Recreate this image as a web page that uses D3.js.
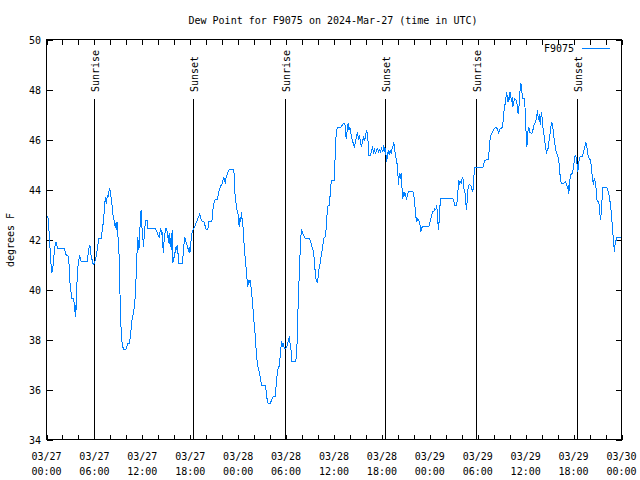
<!DOCTYPE html>
<html lang="en">
<head>
<meta charset="UTF-8">
<title>Dew Point F9075</title>
<script src="https://cdn.jsdelivr.net/npm/d3@7/dist/d3.min.js"></script>
<style>
	body { margin: 0; background: #fff; }
	text { font-family: "DejaVu Sans Mono", "Liberation Mono", monospace; font-size: 10px; fill: #000; }
	.dew { fill: none; stroke: #0080ff; stroke-width: 1; shape-rendering: crispEdges; }
</style>
</head>
<body>
<script type="text/javascript">

// hours since 2024-03-27 00:00 UTC
var hours = [
	0.17,0.29,0.37,0.50,0.58,0.67,0.79,0.88,1.00,1.08,1.21,1.29,1.42,2.25,2.34,2.46,2.67,2.80,2.88,2.96,
	3.09,3.17,3.38,3.46,3.55,3.59,3.67,3.76,3.84,3.97,4.05,4.13,4.22,4.34,5.09,5.17,5.26,5.34,5.43,5.51,
	5.59,5.72,5.80,5.93,6.05,6.22,6.34,6.47,6.55,6.89,6.97,7.10,7.18,7.30,7.39,7.47,7.55,7.64,7.72,7.80,
	7.93,8.01,8.14,8.22,8.31,8.39,8.51,8.64,8.72,8.81,8.89,8.97,9.10,9.18,9.27,9.39,9.47,9.60,9.72,9.93,
	10.06,10.23,10.39,10.52,10.64,10.77,10.89,11.02,11.14,11.23,11.35,11.44,11.48,11.56,11.64,11.73,11.85,11.94,12.02,12.15,
	12.23,12.31,12.40,12.48,12.61,12.69,13.65,13.81,13.98,14.11,14.23,14.32,14.40,14.48,14.57,14.65,14.73,14.86,14.94,15.07,
	15.15,15.23,15.32,15.40,15.48,15.57,15.65,15.73,15.82,15.90,15.99,16.11,16.20,16.28,16.36,16.45,16.57,16.99,17.07,17.15,
	17.24,17.32,17.41,17.53,17.66,17.78,17.86,17.95,18.07,18.20,18.32,18.45,18.57,18.70,18.82,18.95,19.07,19.20,19.33,19.45,
	19.70,19.83,19.99,20.20,20.33,20.62,20.74,20.83,20.95,21.08,21.20,21.41,21.54,21.66,21.79,21.87,22.00,22.08,22.20,22.33,
	22.41,22.50,22.62,22.75,22.87,23.46,23.58,23.71,23.83,23.96,24.04,24.13,24.25,24.33,24.42,24.50,24.58,24.67,24.79,24.88,
	25.00,25.13,25.21,25.29,25.38,25.50,25.63,25.75,25.88,26.00,26.13,26.25,26.38,26.50,26.67,26.84,26.96,27.38,27.51,27.63,
	27.76,28.01,28.17,28.34,28.63,28.76,28.88,29.01,29.13,29.22,29.34,29.47,29.55,29.64,29.76,30.01,30.18,30.30,30.43,30.51,
	30.64,30.72,31.22,31.30,31.39,31.47,31.60,31.68,31.81,31.89,31.97,32.10,32.27,32.43,32.93,33.06,33.18,33.31,33.43,33.56,
	33.64,33.73,33.85,33.93,34.02,34.14,34.27,34.39,34.52,34.64,34.77,34.94,35.02,35.15,35.27,35.40,35.52,35.60,35.69,36.02,
	36.10,36.19,36.31,36.44,36.73,36.90,37.02,37.15,37.27,37.40,37.52,37.65,37.77,37.86,37.98,38.11,38.23,38.36,38.48,38.57,
	38.69,38.82,38.94,39.07,39.19,39.32,39.44,39.57,39.70,39.86,39.99,40.11,40.24,40.36,40.57,40.70,40.82,40.95,41.07,41.20,
	41.32,41.45,41.57,41.70,41.82,41.95,42.12,42.24,42.32,42.45,42.57,42.70,42.78,42.91,43.03,43.16,43.28,43.41,43.49,43.58,
	43.70,43.83,43.95,44.08,44.16,44.29,44.41,44.49,44.58,44.66,44.75,44.87,44.95,45.08,45.20,45.33,45.87,45.99,46.12,46.25,
	46.37,46.50,46.62,46.75,46.87,46.96,47.08,47.88,48.00,48.13,48.25,48.38,48.50,48.63,48.75,48.84,48.92,49.00,49.09,49.17,
	49.29,49.38,50.88,51.01,51.13,51.34,51.47,51.55,51.63,51.72,51.80,51.92,52.05,52.13,52.22,52.30,52.43,52.51,52.59,52.68,
	52.76,52.84,52.97,53.09,53.22,53.30,53.39,53.47,53.55,53.64,54.64,54.76,54.89,55.31,55.43,55.51,55.60,55.72,55.85,55.97,
	56.10,56.22,56.47,56.60,56.72,56.85,57.10,57.18,57.27,57.35,57.48,57.56,57.64,57.73,57.81,57.89,57.98,58.06,58.14,58.23,
	58.31,58.39,58.52,58.64,58.77,58.89,58.98,59.06,59.15,59.23,59.31,59.40,59.48,59.56,59.65,59.85,59.94,60.02,60.11,60.15,
	60.23,60.31,60.40,60.48,60.73,60.86,60.98,61.11,61.23,61.36,61.48,61.57,61.65,61.73,61.82,61.90,61.98,62.07,62.15,62.23,
	62.32,62.44,62.53,62.61,62.69,62.78,62.86,62.99,63.11,63.19,63.28,63.36,63.44,63.53,63.61,63.74,63.86,63.99,64.11,64.24,
	64.32,64.45,64.91,64.99,65.11,65.24,65.32,65.41,65.49,65.62,65.74,65.87,65.99,66.12,66.20,66.28,66.37,66.45,66.53,66.62,
	66.74,66.87,67.03,67.16,67.29,67.41,67.54,67.66,67.74,67.87,67.99,68.12,68.24,68.33,68.41,68.49,68.58,68.66,68.79,68.87,
	68.95,69.16,69.29,69.37,69.50,69.58,69.66,70.16,70.29,70.41,70.54,70.67,70.79,70.92,71.04,71.12,71.21,71.33,71.42,71.92
];

// dew point, degrees F
var dewF = [
	42.94,42.51,41.98,41.38,40.92,40.65,40.85,41.18,41.58,41.78,41.91,41.78,41.65,41.65,41.51,41.38,41.38,41.12,40.65,40.18,
	39.85,39.65,39.65,39.45,39.12,39.39,38.92,39.85,40.45,41.05,41.18,41.38,41.25,41.12,41.12,41.32,41.51,41.71,41.78,41.58,
	41.32,41.18,41.05,40.98,41.12,41.32,41.58,41.85,42.05,42.05,42.38,42.65,42.91,43.44,43.71,43.44,43.58,43.78,43.71,43.91,
	44.04,43.84,43.58,43.31,42.98,42.91,42.65,42.45,42.71,42.38,42.71,41.98,41.32,40.25,38.59,38.39,37.79,37.66,37.59,37.59,
	37.72,37.86,37.86,38.19,38.59,38.92,39.05,39.39,39.85,40.58,41.58,42.11,41.58,41.98,41.65,42.78,43.18,42.51,42.25,41.71,
	42.11,42.45,42.71,42.78,42.78,42.45,42.45,42.31,42.18,42.11,42.31,42.45,42.18,42.31,41.71,41.45,41.98,42.31,42.45,42.45,
	42.05,42.18,41.85,42.25,41.71,42.05,41.58,42.38,41.05,41.18,41.32,41.51,41.71,41.58,41.78,41.51,41.05,41.05,41.25,41.58,
	41.91,42.11,41.98,41.85,41.71,41.51,41.71,41.45,41.85,42.25,42.38,42.45,42.51,42.65,42.71,42.84,42.91,43.02,42.84,42.75,
	42.71,42.58,42.41,42.41,42.71,42.71,42.78,43.18,43.44,43.58,43.60,43.60,43.84,44.00,44.11,44.17,44.24,44.37,44.51,44.31,
	44.24,44.51,44.61,44.71,44.80,44.80,43.91,43.51,43.18,43.11,42.71,42.51,42.91,42.71,43.11,42.78,42.65,42.11,41.65,41.25,
	40.85,40.32,40.12,40.38,40.25,40.38,40.05,39.65,39.12,38.65,38.19,37.59,37.12,36.86,36.66,36.33,36.15,36.15,35.93,35.59,
	35.43,35.43,35.57,35.69,35.73,36.19,36.59,36.86,36.93,37.19,37.66,37.92,37.72,37.86,37.66,37.66,37.79,37.99,38.12,37.79,
	37.52,37.12,37.12,37.46,37.92,38.99,40.12,41.05,41.71,42.31,42.38,42.25,42.11,42.05,42.05,41.91,41.78,41.65,41.51,41.12,
	40.72,40.45,40.32,40.25,40.52,40.85,41.05,41.32,41.58,41.85,42.09,42.11,42.45,43.11,43.38,43.38,43.78,44.17,44.37,44.37,
	44.91,45.84,46.37,46.48,46.50,46.50,46.57,46.64,46.64,46.57,46.04,46.37,46.66,46.37,46.50,46.24,46.04,45.90,45.77,45.70,
	45.90,46.10,46.30,45.97,46.17,45.90,45.70,45.90,46.10,45.97,46.24,46.37,46.04,45.37,45.37,45.57,45.68,45.44,45.57,45.41,
	45.61,45.64,45.50,45.57,45.50,45.64,45.50,45.77,45.50,45.64,45.11,45.31,45.57,45.37,45.57,45.44,45.64,45.77,45.90,45.64,
	45.37,45.17,44.91,44.17,44.64,44.44,44.64,44.24,43.64,43.91,43.71,43.91,43.77,43.64,43.77,43.91,43.91,43.77,43.38,42.91,
	42.71,42.84,42.78,42.65,42.31,42.45,42.51,42.51,42.65,42.84,42.98,43.11,43.11,43.24,43.18,43.38,43.18,42.71,42.38,42.78,
	43.44,43.64,43.64,43.51,43.38,43.38,43.64,44.11,44.37,44.17,44.31,44.24,44.44,44.51,44.11,43.97,43.84,43.44,43.18,43.58,
	43.97,44.17,44.21,44.17,44.11,43.97,43.91,44.31,44.64,44.88,44.88,45.04,45.17,45.20,45.57,45.90,46.17,46.21,46.30,46.37,
	46.44,46.48,46.44,46.24,46.37,46.44,46.48,46.77,47.10,47.30,47.50,47.77,47.90,47.50,47.70,47.50,47.83,47.90,47.70,47.50,
	47.70,47.30,47.50,47.63,47.61,47.50,47.23,47.03,47.23,47.70,48.03,48.26,48.03,47.83,47.63,47.63,47.17,46.44,46.10,45.70,
	45.97,46.44,46.50,46.30,46.24,46.30,46.50,46.64,46.70,46.84,47.17,46.84,46.77,47.03,46.57,46.90,47.10,46.84,46.50,46.37,
	46.10,45.84,45.64,45.44,45.64,45.57,45.77,46.10,46.37,46.57,46.70,46.57,46.37,46.10,45.90,45.64,45.44,45.37,45.24,44.91,
	44.51,44.24,44.27,44.31,44.24,44.04,44.17,43.84,44.31,44.57,44.64,44.64,44.91,45.24,45.37,45.31,45.24,44.97,44.71,45.04,
	45.24,45.33,45.31,45.37,45.57,45.70,45.88,45.70,45.50,45.27,45.24,45.17,44.91,44.51,44.37,44.17,44.44,44.37,44.11,43.84,
	43.51,43.51,43.04,42.78,43.18,43.71,44.08,44.08,43.97,43.84,43.58,43.24,42.78,42.25,41.78,41.51,41.85,41.98,42.09,42.09
];

var sunLabels = ["Sunrise", "Sunset", "Sunrise", "Sunset", "Sunrise", "Sunset"];
var sunHours = [5.93, 18.32, 29.84, 42.37, 53.76, 66.41];

var dateLabels = ["03/27", "03/27", "03/27", "03/27", "03/28", "03/28", "03/28", "03/28", "03/29", "03/29", "03/29", "03/29", "03/30"];
var timeLabels = ["00:00", "06:00", "12:00", "18:00", "00:00", "06:00", "12:00", "18:00", "00:00", "06:00", "12:00", "18:00", "00:00"];

var yTicks = [34, 36, 38, 40, 42, 44, 46, 48, 50];

var W = 640, H = 480;
var plotL = 46.5, plotR = 621.5, plotT = 39.5, plotB = 439.5;

var svg = d3.select("body").append("svg")
	.attr("width", W)
	.attr("height", H);

var x = d3.scaleLinear().domain([0, 72]).range([plotL, plotR]);
var y = d3.scaleLinear().domain([34, 50]).range([plotB, plotT]);

// ticks, inward and mirrored like gnuplot
var minor = d3.range(0, 73, 2);
svg.append("g")
	.attr("transform", "translate(0," + plotB + ")")
	.call(d3.axisBottom(x).tickValues(minor).tickSize(-5).tickSizeOuter(0).tickFormat(""));
svg.append("g")
	.attr("transform", "translate(0," + plotT + ")")
	.call(d3.axisTop(x).tickValues(minor).tickSize(-5).tickSizeOuter(0).tickFormat(""));
svg.append("g")
	.attr("transform", "translate(" + plotL + ",0)")
	.call(d3.axisLeft(y).tickValues(yTicks).tickSize(-6).tickSizeOuter(0).tickFormat(""));
svg.append("g")
	.attr("transform", "translate(" + plotR + ",0)")
	.call(d3.axisRight(y).tickValues(yTicks).tickSize(-6).tickSizeOuter(0).tickFormat(""));
svg.selectAll(".domain").remove();
svg.selectAll(".tick line").attr("stroke", "#000").attr("shape-rendering", "crispEdges");

// x labels, two lines each
var labelTicks = d3.range(0, 73, 6);
var xl = svg.append("g").selectAll("text")
	.data(labelTicks)
	.enter().append("text")
	.attr("text-anchor", "middle")
	.attr("x", function (d) { return x(d); });
xl.append("tspan")
	.attr("x", function (d) { return x(d); })
	.attr("y", 460)
	.text(function (d, i) { return dateLabels[i]; });
xl.append("tspan")
	.attr("x", function (d) { return x(d); })
	.attr("y", 475)
	.text(function (d, i) { return timeLabels[i]; });

// y labels
svg.append("g").selectAll("text")
	.data(yTicks)
	.enter().append("text")
	.attr("text-anchor", "end")
	.attr("x", 41)
	.attr("y", function (d) { return y(d) + 4; })
	.text(function (d) { return d; });

// sunrise / sunset markers
svg.append("g").selectAll("line")
	.data(sunHours)
	.enter().append("line")
	.attr("x1", function (d) { return Math.round(x(d)) + 0.5; })
	.attr("x2", function (d) { return Math.round(x(d)) + 0.5; })
	.attr("y1", 99)
	.attr("y2", plotB)
	.attr("stroke", "#000")
	.attr("shape-rendering", "crispEdges");

svg.append("g").selectAll("text")
	.data(sunHours)
	.enter().append("text")
	.attr("transform", function (d) {
		return "translate(" + (Math.round(x(d)) + 4.5) + ",92) rotate(-90)";
	})
	.text(function (d, i) { return sunLabels[i]; });

// data line
var line = d3.line()
	.x(function (d, i) { return x(hours[i]); })
	.y(function (d) { return y(d); });

svg.append("path")
	.datum(dewF)
	.attr("class", "dew")
	.attr("d", line);

// frame
svg.append("rect")
	.attr("x", plotL).attr("y", plotT)
	.attr("width", plotR - plotL).attr("height", plotB - plotT)
	.attr("fill", "none").attr("stroke", "#000")
	.attr("shape-rendering", "crispEdges");

// title and axis label
svg.append("text")
	.attr("x", 333).attr("y", 24)
	.attr("text-anchor", "middle")
	.text("Dew Point for F9075 on 2024-Mar-27 (time in UTC)");

svg.append("text")
	.attr("transform", "translate(14,240) rotate(-90)")
	.attr("text-anchor", "middle")
	.text("degrees F");

// legend
svg.append("text")
	.attr("x", 574).attr("y", 52)
	.attr("text-anchor", "end")
	.text("F9075");
svg.append("line")
	.attr("x1", 582).attr("x2", 610)
	.attr("y1", 48.5).attr("y2", 48.5)
	.attr("stroke", "#0080ff")
	.attr("shape-rendering", "crispEdges");

</script>
</body>
</html>
